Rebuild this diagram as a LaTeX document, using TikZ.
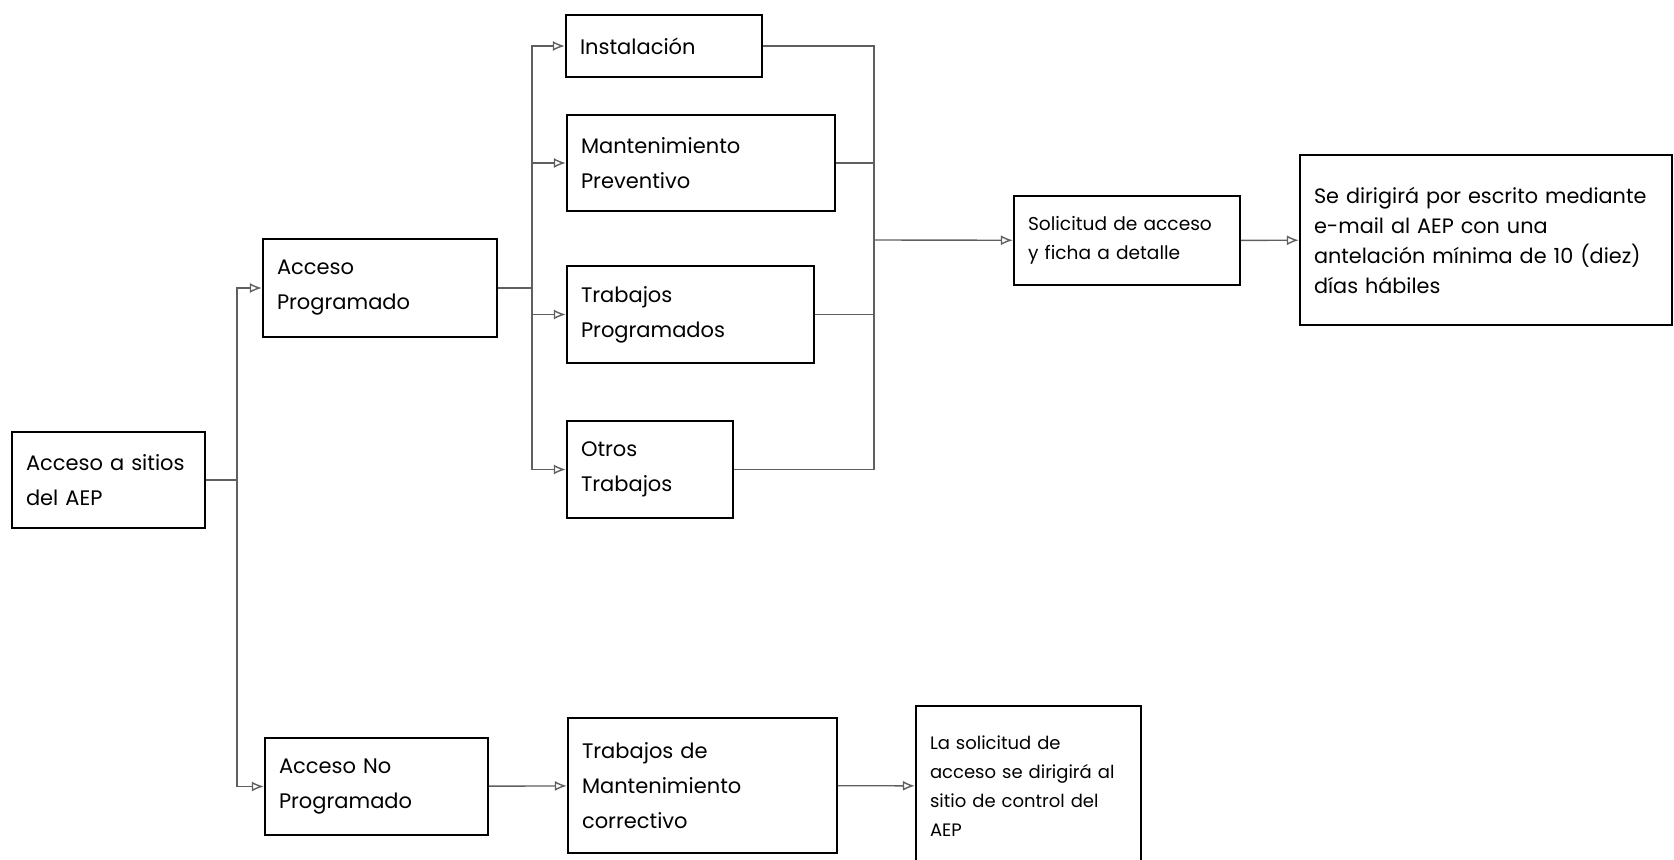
\documentclass[tikz,border=0pt]{standalone}
\usepackage{fontspec}
\setmainfont{Poppins}
\usetikzlibrary{arrows.meta}
\definecolor{ln_grey}{RGB}{95, 95, 95}
\tikzstyle{bx}=[draw=black,line width=1.2pt,inner xsep=7pt,inner ysep=2pt,
  align=left,font=\fontsize{10.5}{17.5}\selectfont]
\tikzstyle{sbx}=[bx,font=\fontsize{9.3}{14.5}\selectfont]
\tikzstyle{ln}=[draw=ln_grey,line width=0.7pt]
\tikzstyle{ar}=[ln,-{Latex[open,length=6pt,width=5pt]}]

\begin{document}
\begin{tikzpicture}[x=0.5pt,y=-0.5pt]
        \useasboundingbox (0,0) rectangle (1674,860);
        \node [bx,text width=82.5pt,minimum height=48pt] (acc) at (108.5,480) {Acceso a sitios\\del AEP};
        \node [bx,text width=103pt,minimum height=49pt] (ap) at (380,288) {Acceso\\Programado};
        \node [bx,text width=97.5pt,minimum height=48.5pt] (anp) at (376.5,786.5) {Acceso No\\Programado};
        \node [bx,text width=84pt,minimum height=31pt] (inst) at (664,46) {Instalación};
        \node [bx,text width=120pt,minimum height=48pt] (mp) at (701,163) {Mantenimiento\\Preventivo};
        \node [bx,text width=109.5pt,minimum height=48.5pt] (tp) at (690.5,314.5) {Trabajos\\Programados};
        \node [bx,text width=69pt,minimum height=48.5pt] (ot) at (650,469.5) {Otros\\Trabajos};
        \node [sbx,text width=99pt,minimum height=44.5pt] (sol) at (1127,240.5) {Solicitud de acceso\\y ficha a detalle};
        \node [bx,font=\fontsize{10.4}{15}\selectfont,text width=172pt,minimum height=85pt] (se) at (1486,240) {Se dirigirá por escrito mediante\\e-mail al AEP con una\\antelación mínima de 10 (diez)\\días hábiles};
        \node [bx,text width=120.5pt,minimum height=67.5pt] (tmc) at (702.5,785.5) {Trabajos de\\Mantenimiento\\correctivo};
        \node [sbx,font=\fontsize{9}{14.5}\selectfont,text width=98.5pt,minimum height=80pt] (las) at (1028.5,786) {La solicitud de\\acceso se dirigirá al\\sitio de control del\\AEP};
        % junction points
        \coordinate (j1) at (237,480);
        \coordinate (j2) at (532,288);
        \coordinate (j3) at (874,240);
        \draw [ln] (acc) to (j1);
        \draw [ar] (j1) |- (ap);
        \draw [ar] (j1) |- (anp);
        \draw [ln] (ap) to (j2);
        \draw [ar] (j2) |- (inst);
        \draw [ar] (j2) |- (mp);
        \draw [ar] (j2) |- (tp);
        \draw [ar] (j2) |- (ot);
        \draw [ln] (inst) -| (j3);
        \draw [ln] (mp) -| (j3);
        \draw [ln] (tp) -| (j3);
        \draw [ln] (ot) -| (j3);
        \draw [ar] (j3) to (sol);
        \draw [ar] (sol) to (se);
        \draw [ar] (anp) to (tmc);
        \draw [ar] (tmc) to (las);
    \end{tikzpicture}
\end{document}
